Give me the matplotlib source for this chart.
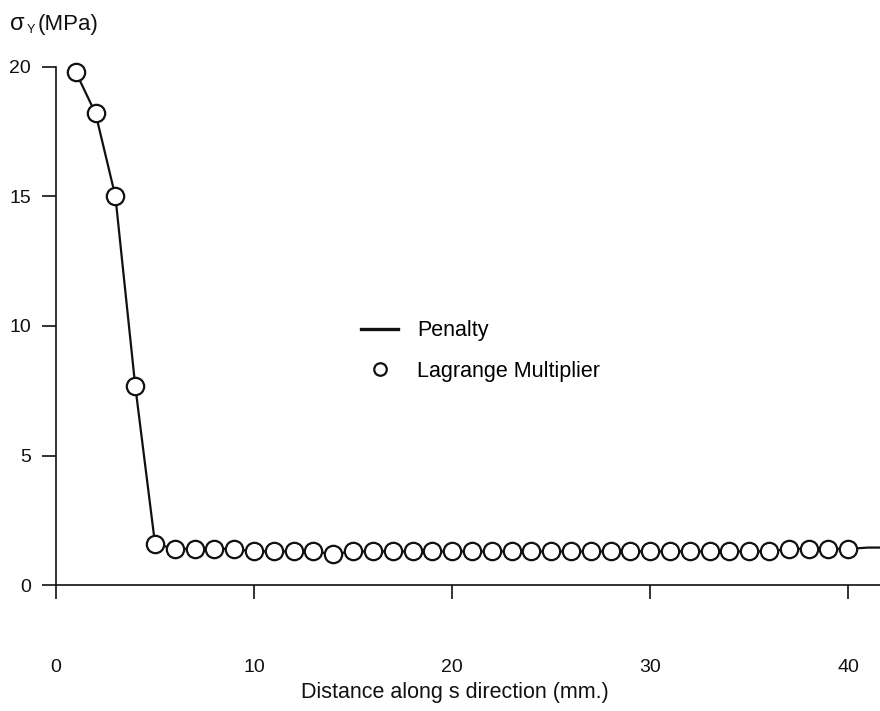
import matplotlib.pyplot as plt
from matplotlib.lines import Line2D

plt.rcParams["font.family"] = ["Liberation Sans", "DejaVu Sans"]

# Lagrange multiplier solution, one point per mm
lagrange_x = list(range(1, 41))
lagrange_y = [
    19.8, 18.2, 15.0, 7.7, 1.6, 1.4, 1.4, 1.4, 1.4, 1.3,
    1.3, 1.3, 1.3, 1.2, 1.3, 1.3, 1.3, 1.3, 1.3, 1.3,
    1.3, 1.3, 1.3, 1.3, 1.3, 1.3, 1.3, 1.3, 1.3, 1.3,
    1.3, 1.3, 1.3, 1.3, 1.3, 1.3, 1.4, 1.4, 1.4, 1.4,
]

# Penalty solution runs on past the last node
penalty_x = lagrange_x + [41, 42]
penalty_y = lagrange_y + [1.45, 1.45]

x_ticks = [0, 10, 20, 30, 40]
y_ticks = [0, 5, 10, 15, 20]

ink = "#111111"

fig = plt.figure(figsize=(8.8, 7.11), dpi=100)
ax = fig.add_axes([0.0636, 0.177, 0.9364, 0.729])

ax.plot(penalty_x, penalty_y, color=ink, linewidth=1.6, zorder=2)
ax.plot(lagrange_x, lagrange_y, linestyle="none", marker="o", markersize=12.5,
        markerfacecolor="white", markeredgecolor=ink,
        markeredgewidth=1.6, zorder=3, clip_on=False)

ax.set_xlim(0, 41.6)
ax.set_ylim(0, 20)
ax.set_xticks(x_ticks)
ax.set_yticks(y_ticks)
ax.spines["top"].set_visible(False)
ax.spines["right"].set_visible(False)
for side in ("left", "bottom"):
    ax.spines[side].set_linewidth(1.2)
    ax.spines[side].set_color(ink)
ax.tick_params(axis="both", direction="out", length=10, width=1.2,
               colors=ink, labelsize=14)
ax.tick_params(axis="x", pad=43)
ax.tick_params(axis="y", pad=8)

ax.set_xlabel("Distance along s direction (mm.)", fontsize=15.5, color=ink)
ax.xaxis.set_label_coords(0.484, -0.187)
fig.text(0.011, 0.966, "σ", fontsize=17, ha="left", va="center", color=ink)
fig.text(0.030, 0.958, "Y", fontsize=9, ha="left", va="center", color=ink)
fig.text(0.043, 0.966, "(MPa)", fontsize=16, ha="left", va="center",
         color=ink)

handles = [
    Line2D([], [], color=ink, linewidth=2.4),
    Line2D([], [], linestyle="none", marker="o", markersize=9,
           markerfacecolor="white", markeredgecolor=ink,
           markeredgewidth=1.6),
]
ax.legend(handles, ["Penalty", "Lagrange Multiplier"], loc="center left",
          bbox_to_anchor=(0.347, 0.452), frameon=False, fontsize=15.5,
          handlelength=1.7, labelspacing=0.9, handletextpad=0.9)

fig.savefig("out.png", dpi=100)
